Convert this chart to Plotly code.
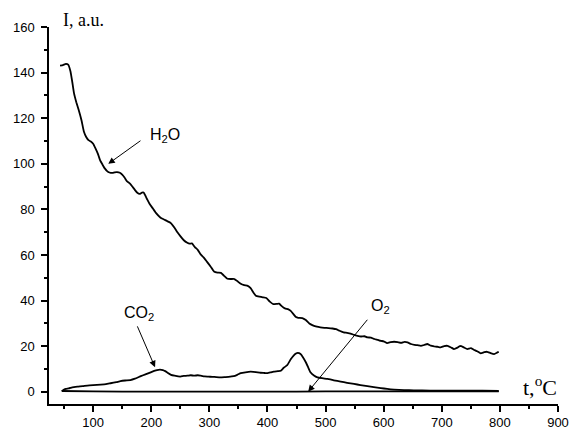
import plotly.graph_objects as go

# H2O curve
h2o_t = [43, 48, 53, 57, 61, 64, 67, 71, 75, 80, 84, 88, 92, 96, 100, 104, 108, 112, 116, 120,
         124, 128, 133, 137, 141, 146, 150, 154, 158, 163, 167, 172, 176, 180, 184, 187, 190, 193,
         197, 202, 208, 216, 222, 228, 233, 240, 245, 250, 256, 262, 266, 270, 275, 280, 285, 290,
         296, 302, 308, 314, 320, 325, 331, 337, 343, 348, 354, 360, 366, 371, 376, 380, 386, 392,
         398, 404, 410, 416, 420, 425, 430, 436, 440, 445, 449, 453, 460, 466, 472, 478, 485, 491,
         498, 505, 512, 518, 524, 531, 537, 543, 549, 555, 561, 567, 572, 578, 584, 590, 595, 600,
         606, 612, 618, 624, 630, 636, 641, 647, 653, 658, 664, 670, 675, 681, 687, 692, 698, 704,
         710, 716, 721, 727, 732, 738, 744, 750, 755, 761, 767, 773, 778, 784, 790, 795, 798]
h2o_i = [143.1, 143.3, 143.8, 143.5, 140.5, 136, 131, 127, 123.7, 119, 114.2, 111.8, 110.4, 109.8,
         108.8, 106.8, 104.5, 101.5, 99.7, 98, 96.8, 96.2, 96, 96.3, 96.4, 96.1, 95.3, 94, 92.4,
         91.4, 90.2, 88.5, 87.3, 86.8, 87.4, 87.4, 86, 84.4, 82.5, 80.7, 78.5, 76.4, 75.6, 74.8,
         74.2, 72, 70, 68.3, 66.5, 65.4, 65, 65.1, 63.5, 62.3, 60.3, 59, 57, 55, 52.8, 52.3, 52.2,
         51, 49.6, 49.5, 49.5, 48.6, 47.4, 46.8, 46.5, 45.5, 43.5, 42.2, 41.8, 41.5, 41.2, 39.6,
         38.5, 38.6, 38.7, 37.5, 36.6, 36.2, 35.5, 34, 32.8, 32.5, 32.4, 31.5, 30, 29.2, 28.6, 28.3,
         28.1, 28, 27.8, 27.5, 26.8, 26.1, 25.9, 25.6, 25, 24.6, 24.3, 24.4, 23.9, 23.8, 23.2, 22.8,
         22.4, 22.2, 21.4, 21.8, 22, 21.8, 21.5, 21.9, 21.7, 21, 20.6, 20.5, 20.2, 20.6, 21, 20.3,
         20, 19.8, 19.5, 20.1, 20.2, 19.5, 18.8, 19.4, 20.2, 19.5, 18.8, 19.2, 18.5, 17.8, 16.9,
         17.4, 17.6, 17, 16.6, 17.2, 17.6]

# CO2 curve
co2_t = [46, 50, 53, 58, 64, 73, 82, 90, 100, 113, 122, 130, 140, 147, 155, 164, 172, 182, 190,
         199, 205, 210, 215, 220, 224, 228, 234, 240, 250, 256, 262, 268, 274, 280, 285, 292, 298,
         305, 312, 319, 326, 333, 342, 348, 354, 362, 371, 380, 388, 395, 400, 406, 411, 418, 423,
         428, 434, 440, 445, 449, 452, 457, 461, 466, 470, 474, 480, 486, 494, 503, 514, 526, 537,
         549, 560, 572, 583, 595, 606, 618, 635, 652, 680, 710, 740, 770, 798]
co2_i = [0.3, 1.0, 1.3, 1.5, 2.0, 2.3, 2.5, 2.8, 3.0, 3.2, 3.4, 3.8, 4.3, 4.7, 5.0, 5.2, 5.8, 6.9,
         7.7, 8.6, 9.2, 9.6, 9.8, 9.6, 9.1, 8.4, 7.5, 7.1, 6.7, 7.0, 7.1, 7.3, 7.1, 7.3, 7.1, 6.8,
         6.7, 6.6, 6.5, 6.4, 6.5, 6.6, 6.9, 7.5, 8.2, 8.6, 8.9, 8.7, 8.4, 8.3, 8.2, 8.6, 8.9, 9.1,
         9.3, 10.6, 11.7, 14.3, 15.9, 16.8, 17.1, 16.6, 15.2, 13.0, 10.8, 8.6, 7.2, 6.4, 6.0, 5.7,
         5.1, 4.5, 4.0, 3.5, 3.0, 2.5, 2.1, 1.7, 1.3, 1.0, 0.8, 0.7, 0.6, 0.6, 0.5, 0.5, 0.4]

# O2 curve
o2_t = [46, 100, 200, 300, 400, 500, 600, 700, 798]
o2_i = [0.4, 0.2, 0.1, 0.1, 0.1, 0.2, 0.2, 0.2, 0.2]

# axis ticks
x_ticks = [100, 200, 300, 400, 500, 600, 700, 800, 900]
y_ticks = [0, 20, 40, 60, 80, 100, 120, 140, 160]

SANS = "Liberation Sans, Arial, sans-serif"
SERIF = "Liberation Serif, Times New Roman, serif"

fig = go.Figure()
for t, i in [(h2o_t, h2o_i), (co2_t, co2_i), (o2_t, o2_i)]:
    fig.add_trace(go.Scatter(x=t, y=i, mode="lines",
                             line=dict(color="black", width=1.8, shape="spline", smoothing=0.35),
                             showlegend=False, hoverinfo="skip"))

axis_common = dict(showline=True, linecolor="black", linewidth=1.5, mirror=False,
                   showgrid=False, zeroline=False, ticks="outside", ticklen=6,
                   tickwidth=1.5, tickcolor="black", automargin=False,
                   tickfont=dict(family=SANS, size=13, color="black"))

fig.update_xaxes(range=[24, 900], tickvals=x_ticks, ticktext=[str(v) for v in x_ticks],
                 minor=dict(dtick=50, tick0=0, ticks="outside", ticklen=3,
                            tickwidth=1.5, tickcolor="black"),
                 ticklabelstandoff=0, **axis_common)
fig.update_yaxes(range=[-5.3, 160], tickvals=y_ticks, ticktext=[str(v) for v in y_ticks],
                 minor=dict(dtick=10, tick0=0, ticks="outside", ticklen=3,
                            tickwidth=1.5, tickcolor="black"),
                 ticklabelstandoff=4, **axis_common)

anns = []
# arrows: (head_x, head_y, tail_x, tail_y)
arrows = [(126, 100.0, 184, 110.6), (206.5, 10.8, 175, 29.4), (470, 0.1, 574, 32.3)]
for hx, hy, tx, ty in arrows:
    anns.append(dict(x=hx, y=hy, ax=tx, ay=ty, xref="x", yref="y", axref="x", ayref="y",
                     text="", showarrow=True, arrowhead=2, arrowsize=1.3, arrowwidth=1,
                     arrowcolor="black", standoff=0, startstandoff=0))

labels = [("H<sub>2</sub>O", 195, 112.5), ("CO<sub>2</sub>", 150, 34.5), ("O<sub>2</sub>", 575, 37.5)]
for txt, x, y in labels:
    anns.append(dict(x=x, y=y, xref="x", yref="y", text=txt, showarrow=False,
                     xanchor="left", yanchor="middle",
                     font=dict(family=SANS, size=16, color="black")))

anns.append(dict(x=0.024, y=1.018, xref="paper", yref="paper", text="I, a.u.", showarrow=False,
                 xanchor="left", yanchor="middle",
                 font=dict(family=SERIF, size=18, color="black")))
anns.append(dict(x=0.928, y=0.047, xref="paper", yref="paper", text="t,<sup>o</sup>C", showarrow=False,
                 xanchor="left", yanchor="middle",
                 font=dict(family=SERIF, size=22, color="black")))

fig.update_layout(width=571, height=428, margin=dict(l=49, r=13, t=27, b=24),
                  paper_bgcolor="white", plot_bgcolor="white", annotations=anns)

fig.write_html("out.html")
